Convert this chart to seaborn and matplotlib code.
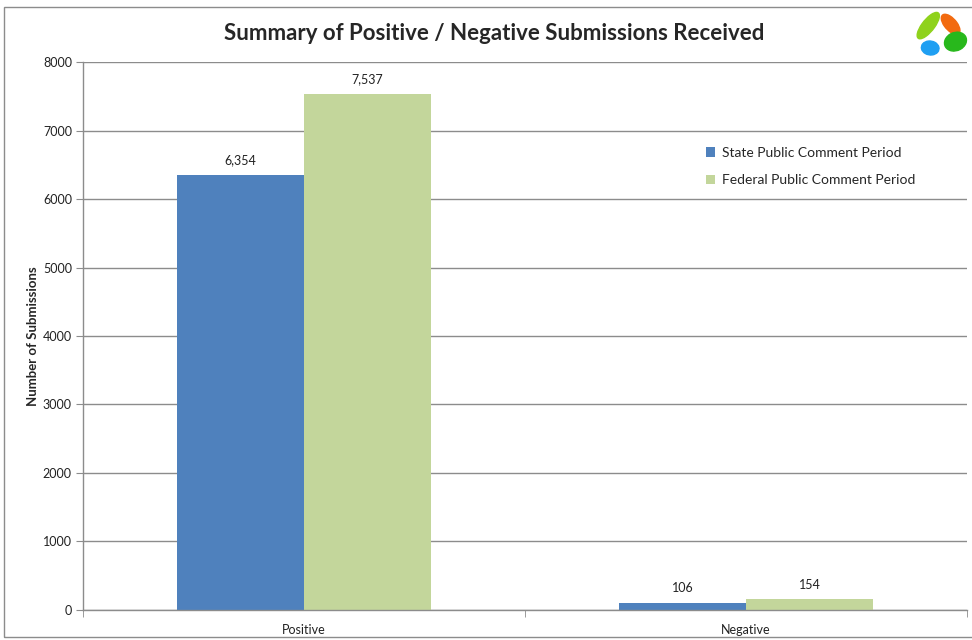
import matplotlib
matplotlib.use("Agg")
import matplotlib.pyplot as plt
import matplotlib.patches as mpatches
import pandas as pd
import seaborn as sns

categories = ["Positive", "Negative"]
periods = ["State Public Comment Period", "Federal Public Comment Period"]
state_values = [6354, 106]
federal_values = [7537, 154]

palette = {"State Public Comment Period": "#4F81BD",
           "Federal Public Comment Period": "#C3D69B"}

df = pd.DataFrame({
    "category": categories * 2,
    "period": [periods[0]] * 2 + [periods[1]] * 2,
    "value": state_values + federal_values,
})

sns.set_style("white")
plt.rcParams["font.family"] = ["Lato", "DejaVu Sans"]

fig = plt.figure(figsize=(9.72, 6.4), dpi=100)
ax = fig.add_axes([0.0854, 0.047, 0.9096, 0.856])

sns.barplot(data=df, x="category", y="value", hue="period", order=categories,
            hue_order=periods, palette=palette, width=0.575, saturation=1,
            linewidth=0, ax=ax, legend=True)

for cont in ax.containers:
    ax.bar_label(cont, labels=["{:,}".format(int(v)) for v in cont.datavalues],
                 padding=6, fontsize=9, color="#222222")

ax.set_xlim(-0.5, 1.5)
ax.set_ylim(0, 8000)
ax.set_yticks(range(0, 8001, 1000))
ax.yaxis.grid(True, color="#8c8c8c", linewidth=1)
ax.set_axisbelow(True)
for side in ["top", "right"]:
    ax.spines[side].set_visible(False)
for side in ["left", "bottom"]:
    ax.spines[side].set_color("#8c8c8c")
    ax.spines[side].set_linewidth(1)

ax.tick_params(axis="y", length=5, color="#8c8c8c", labelsize=9,
               labelcolor="#222222", left=True, pad=3)
ax.set_xticks([-0.5, 0.5, 1.5], minor=True)
ax.tick_params(axis="x", which="major", length=0, labelsize=9,
               labelcolor="#222222", pad=10)
ax.tick_params(axis="x", which="minor", length=5, color="#8c8c8c", bottom=True)
ax.set_xlabel("")
ax.set_ylabel("Number of Submissions", fontsize=9.5, fontweight="bold", labelpad=3)

ax.legend(loc="upper left", bbox_to_anchor=(0.69, 0.868), frameon=False,
          fontsize=10, handlelength=0.65, handleheight=0.65, labelspacing=1.1,
          handletextpad=0.5)

fig.text(0.508, 0.948, "Summary of Positive / Negative Submissions Received",
         ha="center", va="center", fontsize=16, fontweight="bold")

# outer chart border
fig.patches.append(mpatches.Rectangle((0.004, 0.004), 1.2, 0.985, transform=fig.transFigure,
                                      fill=False, edgecolor="#8c8c8c", linewidth=1))

# small logo in top right corner
logo = [((0.955, 0.96), 0.014, 0.045, -25, "#8fd21c"),
        ((0.978, 0.962), 0.014, 0.034, 25, "#f26a10"),
        ((0.957, 0.925), 0.018, 0.022, 10, "#1f9ff2"),
        ((0.983, 0.935), 0.022, 0.03, -15, "#28b81c")]
for center, w, h, ang, col in logo:
    fig.patches.append(mpatches.Ellipse(center, w, h, angle=ang, color=col,
                                        transform=fig.transFigure))

fig.savefig("out.png", dpi=100)
